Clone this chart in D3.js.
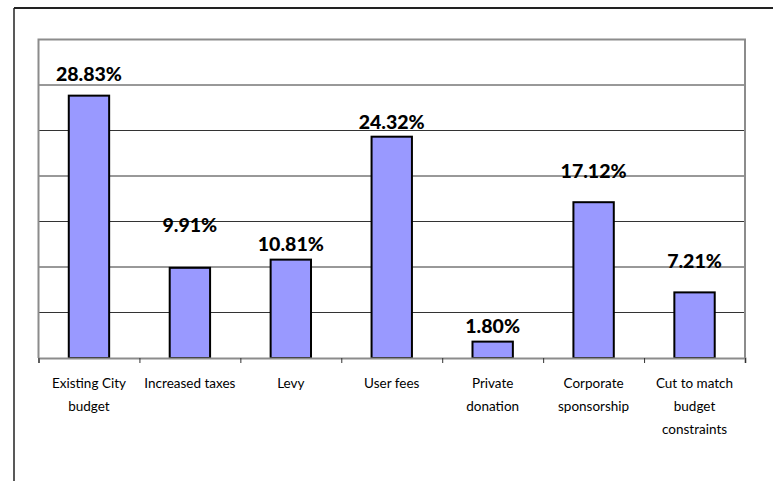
<!DOCTYPE html>
<html><head><meta charset="utf-8">
<script src="https://cdn.jsdelivr.net/npm/d3@7"></script>
<style>html,body{margin:0;padding:0;background:#fff;}svg{display:block;}</style>
</head><body>
<script>
const categories = [["Existing City","budget"],["Increased taxes"],["Levy"],["User fees"],["Private","donation"],["Corporate","sponsorship"],["Cut to match","budget","constraints"]];
const values = [28.83, 9.91, 10.81, 24.32, 1.80, 17.12, 7.21];
const valueLabels = ["28.83%","9.91%","10.81%","24.32%","1.80%","17.12%","7.21%"];
const yTicks = [0,5,10,15,20,25,30,35];
// per-label vertical nudge (px above bar top), as laid out in the original
const labelGap = [15, 36, 9, 8, 9, 24, 24];

const W = 773, H = 481;
const svg = d3.select("body").append("svg").attr("width", W).attr("height", H);
svg.append("rect").attr("width", W).attr("height", H).attr("fill", "#fff");

// outer frame
svg.append("line").attr("x1", 14).attr("x2", W).attr("y1", 8).attr("y2", 8).attr("stroke", "#222").attr("stroke-width", 2);
svg.append("line").attr("x1", 14).attr("x2", 14).attr("y1", 8).attr("y2", H).attr("stroke", "#222").attr("stroke-width", 1.5);

const L = 38.5, R = 745, T = 39.5, B = 358;
const x = d3.scaleBand().domain(d3.range(categories.length)).range([L, R]).paddingInner(0).paddingOuter(0);
const y = d3.scaleLinear().domain([0, 35]).range([B, T]);

// gridlines
svg.append("g").selectAll("line").data(yTicks.filter(t => t > 0 && t < 35)).join("line")
  .attr("x1", L).attr("x2", R).attr("y1", d => y(d)).attr("y2", d => y(d))
  .attr("stroke", "#333").attr("stroke-width", 1);

// plot frame (gray)
svg.append("path").attr("d", `M${L},${B}V${T}H${R}V${B}`).attr("fill", "none").attr("stroke", "#8c8c8c").attr("stroke-width", 2);

// bars
const bw = x.bandwidth() * 0.4;
svg.append("g").selectAll("rect").data(values).join("rect")
  .attr("x", (d, i) => x(i) + x.bandwidth() / 2 - bw / 2)
  .attr("y", d => y(d))
  .attr("width", bw)
  .attr("height", d => B - y(d))
  .attr("fill", "#9999ff").attr("stroke", "#000").attr("stroke-width", 2);

// x axis
const xAxis = d3.axisBottom(d3.scaleLinear().domain([0, categories.length]).range([L, R]))
  .tickValues(d3.range(categories.length + 1)).tickSize(5).tickFormat("");
const gx = svg.append("g").attr("transform", `translate(0,${B})`).call(xAxis);
gx.select(".domain").attr("stroke", "#8c8c8c").attr("stroke-width", 2);
gx.selectAll(".tick line").attr("stroke", "#333");

// category labels
svg.append("g").selectAll("text").data(categories).join("text")
  .attr("x", (d, i) => x(i) + x.bandwidth() / 2)
  .attr("y", 388)
  .attr("text-anchor", "middle")
  .attr("font-family", "Lato, 'Open Sans', sans-serif")
  .attr("font-size", 13.5).attr("fill", "#000")
  .each(function(d) {
    d3.select(this).selectAll("tspan").data(d).join("tspan")
      .attr("x", d3.select(this).attr("x")).attr("dy", (t, j) => j === 0 ? 0 : 23).text(t => t);
  });

// value labels
svg.append("g").selectAll("text").data(values).join("text")
  .attr("x", (d, i) => x(i) + x.bandwidth() / 2)
  .attr("y", (d, i) => y(d) - labelGap[i])
  .attr("text-anchor", "middle")
  .attr("font-family", "Lato, 'Open Sans', sans-serif")
  .attr("font-weight", 900).attr("font-size", 19.5).attr("fill", "#000")
  .text((d, i) => valueLabels[i]);
</script>
</body></html>
